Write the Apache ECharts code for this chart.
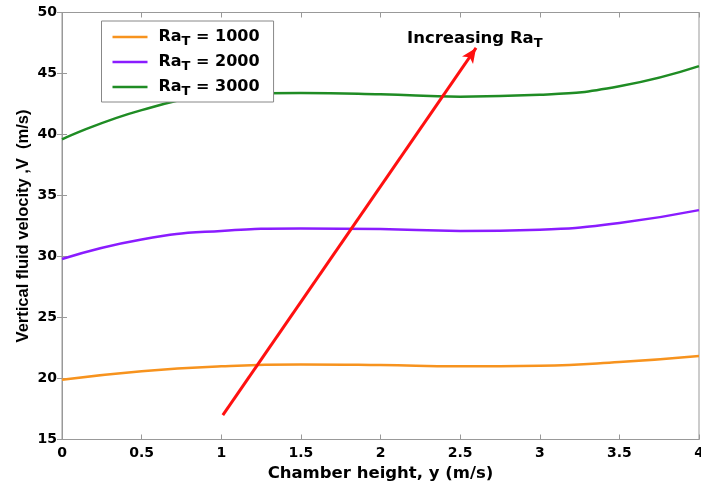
<!DOCTYPE html>
<html><head><meta charset="utf-8">
<script src="https://cdn.jsdelivr.net/npm/echarts@6/dist/echarts.min.js"></script>
<style>html,body{margin:0;padding:0;background:#fff}#c{width:701px;height:486px}</style>
</head><body><div id="c"></div>
<script>
const xValues = [0, 0.5, 1, 1.5, 2, 2.5, 3, 3.5, 4];
const ra1000 = [19.9, 20.6, 21.0, 21.15, 21.1, 21.0, 21.05, 21.35, 21.85];
const ra2000 = [29.8, 31.4, 32.1, 32.3, 32.25, 32.1, 32.2, 32.75, 33.8];
const ra3000 = [39.6, 42.0, 43.2, 43.4, 43.3, 43.1, 43.25, 43.95, 45.6];
const seriesNames = ['1000', '2000', '3000'];
const arrowStart = [1.01, 17.0];
const arrowEnd = [2.6, 47.1];

const F = '"Liberation Sans", Arial, sans-serif';
const FD = '"DejaVu Sans", sans-serif';
const pair = a => xValues.map((x, i) => [x, a[i]]);
const colors = ['#F7931E', '#8A1CFF', '#1F8C24'];
const chart = echarts.init(document.getElementById('c'));
const lineS = (name, d, c) => ({
  name: name, type: 'line', data: pair(d), smooth: 0.5, showSymbol: false,
  lineStyle: {color: c, width: 2.5}, itemStyle: {color: c}
});
const series = [
  lineS(seriesNames[0], ra1000, colors[0]),
  lineS(seriesNames[1], ra2000, colors[1]),
  lineS(seriesNames[2], ra3000, colors[2])
];
series.push({
  type: 'line', data: [], markLine: {
    silent: true, symbol: ['none', 'arrow'], symbolSize: [10, 15],
    lineStyle: {color: '#FF1010', width: 3, type: 'solid'},
    label: {show: false},
    data: [[{coord: arrowStart}, {coord: arrowEnd}]]
  }
});
const axLab = {color: '#000', fontFamily: FD, fontWeight: 'bold', fontSize: 14};
const tick = {show: true, inside: true, length: 5, lineStyle: {color: '#999'}};
chart.setOption({
  animation: false,
  grid: {left: 62, right: 2, top: 12.5, bottom: 46.5, show: true, borderColor: '#999', borderWidth: 1,
         containLabel: false, outerBoundsMode: 'none'},
  legend: {
    orient: 'vertical', left: 101.5, top: 21, itemWidth: 35, itemHeight: 2.5, itemGap: 3,
    padding: [5, 14, 4, 11], borderColor: '#888', borderWidth: 1, backgroundColor: '#fff',
    icon: 'rect',
    data: seriesNames,
    formatter: n => '{b|Ra}{s|T}{b| = ' + n + '}',
    textStyle: {padding: [0, 0, 0, 6], rich: {
      b: {fontFamily: FD, fontWeight: 'bold', fontSize: 16, color: '#000', lineHeight: 20},
      s: {fontFamily: FD, fontWeight: 'bold', fontSize: 13, color: '#000', padding: [9, 0, 0, 0], lineHeight: 20}
    }}
  },
  xAxis: [{
    type: 'value', min: 0, max: 4, interval: 0.5,
    name: 'Chamber height, y (m/s)', nameLocation: 'middle', nameGap: 26, nameMoveOverlap: false,
    nameTextStyle: {color: '#000', fontFamily: FD, fontWeight: 'bold', fontSize: 16.5},
    axisLine: {lineStyle: {color: '#999'}}, axisTick: tick,
    splitLine: {show: false}, axisLabel: Object.assign({margin: 7}, axLab)
  }, {
    type: 'value', min: 0, max: 4, interval: 0.5, position: 'top',
    axisLine: {lineStyle: {color: '#999'}}, axisTick: tick,
    splitLine: {show: false}, axisLabel: {show: false}
  }],
  yAxis: [{
    type: 'value', min: 15, max: 50, interval: 5,
    name: 'Vertical fluid velocity ,V  (m/s)', nameLocation: 'middle', nameGap: 30, nameMoveOverlap: false,
    nameTextStyle: {color: '#000', fontFamily: F, fontWeight: 'bold', fontSize: 16.5},
    axisLine: {show: true, lineStyle: {color: '#999'}}, axisTick: tick,
    splitLine: {show: false}, axisLabel: Object.assign({margin: 5}, axLab)
  }, {
    type: 'value', min: 15, max: 50, interval: 5, position: 'right',
    axisLine: {show: true, lineStyle: {color: '#999'}}, axisTick: tick,
    splitLine: {show: false}, axisLabel: {show: false}
  }],
  graphic: [{
    type: 'text', left: 407, top: 28,
    style: {
      text: '{b|Increasing Ra}{s|T}',
      rich: {
        b: {fontFamily: FD, fontWeight: 'bold', fontSize: 16.5, fill: '#000', lineHeight: 20},
        s: {fontFamily: FD, fontWeight: 'bold', fontSize: 13, fill: '#000', padding: [9, 0, 0, 0], lineHeight: 20}
      }
    }
  }],
  series: series
});
</script></body></html>
